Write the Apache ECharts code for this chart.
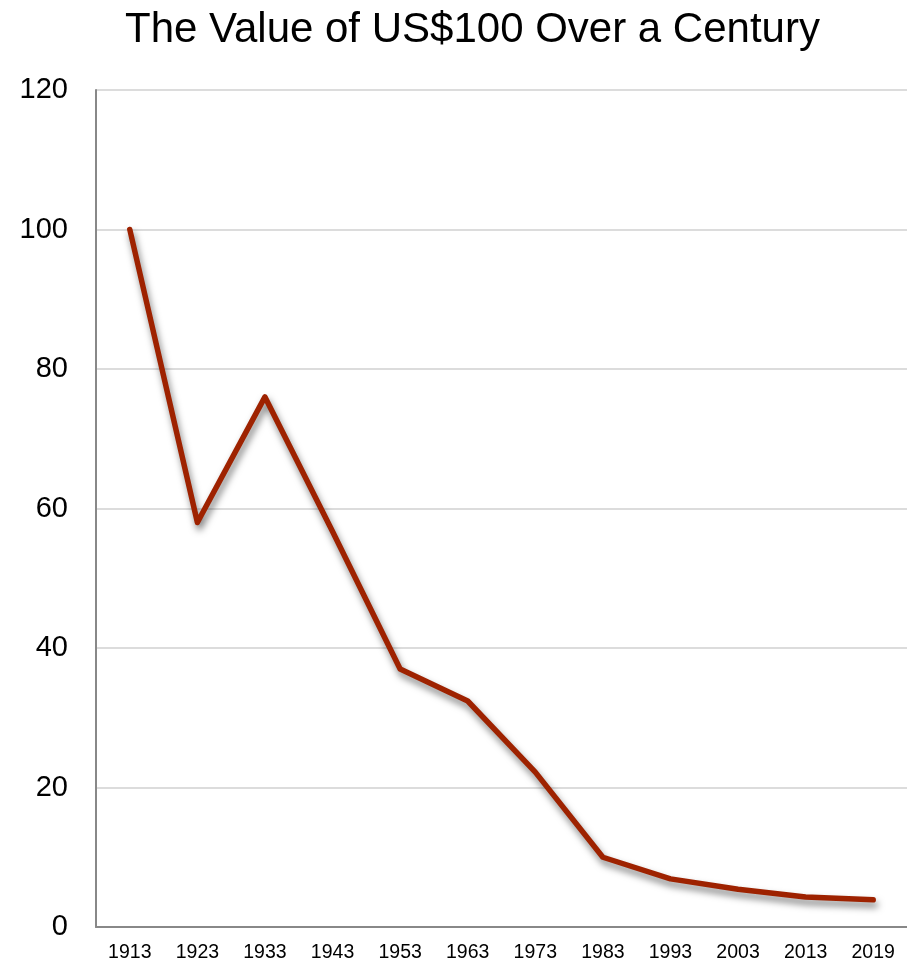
<!DOCTYPE html>
<html><head><meta charset="utf-8">
<script src="https://cdn.jsdelivr.net/npm/echarts@6/dist/echarts.min.js"></script>
<style>html,body{margin:0;padding:0;background:#fff}#c{width:907px;height:963px}</style>
</head><body><div id="c"></div>
<script>
const titleText = 'The Value of US$100 Over a Century';
const years = ['1913','1923','1933','1943','1953','1963','1973','1983','1993','2003','2013','2019'];
const values = [100, 58, 76, 56.7, 37, 32.4, 22.2, 10, 6.9, 5.4, 4.3, 3.9];
const yTicks = [0, 20, 40, 60, 80, 100, 120];

const chart = echarts.init(document.getElementById('c'));
chart.setOption({
  animation: false,
  backgroundColor: '#fff',
  title: {text: titleText, left: 120, top: 4,
    textStyle: {fontFamily: 'Liberation Sans, Arial, sans-serif', fontSize: 42, fontWeight: 'normal', color: '#000'}},
  grid: {left: 96, right: -4, top: 90, bottom: 35},
  xAxis: {type: 'category', data: years, boundaryGap: true,
    axisLine: {lineStyle: {color: '#888', width: 2}},
    axisTick: {show: false},
    axisLabel: {fontFamily: 'Liberation Sans, Arial, sans-serif', fontSize: 19.5, color: '#000', margin: 16}},
  yAxis: {type: 'value', min: yTicks[0], max: yTicks[yTicks.length-1], interval: 20,
    axisLine: {show: true, lineStyle: {color: '#888', width: 2}},
    axisTick: {show: false},
    splitLine: {lineStyle: {color: '#dcdcdc', width: 2}},
    axisLabel: {fontFamily: 'Liberation Sans, Arial, sans-serif', fontSize: 29, color: '#000', margin: 28}},
  series: [{type: 'line', data: values, symbol: 'none',
    lineStyle: {color: '#9e2200', width: 5.5, cap: 'round', join: 'round',
      shadowColor: 'rgba(0,0,0,0.5)', shadowBlur: 7, shadowOffsetX: 2, shadowOffsetY: 5}}]
});
</script></body></html>
